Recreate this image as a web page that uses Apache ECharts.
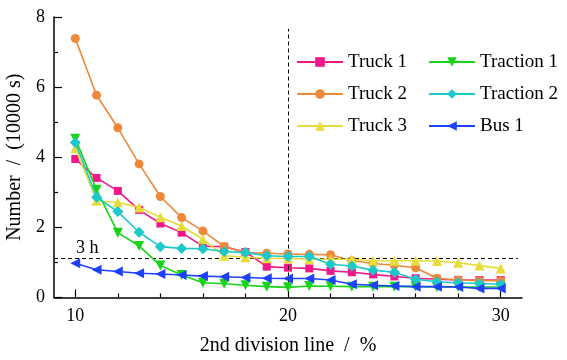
<!DOCTYPE html>
<html>
<head>
<meta charset="utf-8">
<script src="https://cdn.jsdelivr.net/npm/echarts@6/dist/echarts.min.js"></script>
<style>html,body{margin:0;padding:0;background:#fff}#c{width:567px;height:360px}</style>
</head>
<body>
<div id="c"></div>
<script>
var xValues = [10,11,12,13,14,15,16,17,18,19,20,21,22,23,24,25,26,27,28,29,30];
var truck1 = [3.95,3.41,3.04,2.50,2.11,1.85,1.46,1.45,1.30,0.88,0.85,0.83,0.76,0.72,0.66,0.60,0.55,0.52,0.50,0.50,0.50];
var truck2 = [7.39,5.77,4.84,3.81,2.88,2.28,1.90,1.45,1.28,1.26,1.24,1.23,1.22,1.05,0.97,0.92,0.85,0.55,0.50,0.48,0.48];
var truck3 = [4.26,2.76,2.71,2.57,2.29,2.04,1.66,1.19,1.15,1.12,1.12,1.09,1.09,1.09,1.05,1.05,1.05,1.04,0.99,0.91,0.83];
var traction1 = [4.53,3.07,1.85,1.47,0.91,0.64,0.42,0.39,0.35,0.31,0.29,0.33,0.32,0.31,0.31,0.31,0.31,0.30,0.30,0.30,0.30];
var traction2 = [4.42,2.86,2.45,1.86,1.45,1.40,1.39,1.31,1.28,1.19,1.17,1.17,0.95,0.90,0.78,0.72,0.52,0.45,0.42,0.40,0.38];
var bus1 = [0.98,0.79,0.74,0.69,0.67,0.64,0.61,0.59,0.57,0.55,0.54,0.54,0.50,0.38,0.35,0.33,0.31,0.31,0.30,0.26,0.26];
var seriesNames = ['Truck 1','Truck 2','Truck 3','Traction 1','Traction 2','Bus 1'];
var xLabelTicks = [10,20,30];
var xMinorTicks = [12,14,16,18,22,24,26,28];
var refX = 20;          // vertical reference (%)
var refYTop = 7.66;
var refY = 1.11;        // 3 h threshold
var refYLabel = '3 h';
var refXEnd = 30.8;

var FONT = 'Liberation Serif';
var colors = ['#F2188C','#F0883A','#E8DC3A','#18D418','#1CC8C8','#1E40FF'];
var symbols = ['rect','circle','triangle','triangle','diamond','triangle'];
var rotates = [0,0,0,180,0,90];
var sizes = [8,9,10,10,11,10];
var dataSets = [truck1,truck2,truck3,traction1,traction2,bus1];

function pairs(arr){ return xValues.map(function(x,i){ return [x, arr[i]]; }); }

var series = dataSets.map(function(d,i){
  return {
    name: seriesNames[i], type: 'line', data: pairs(d),
    symbol: symbols[i], symbolSize: sizes[i], symbolRotate: rotates[i],
    lineStyle: {color: colors[i], width: 1.6},
    itemStyle: {color: colors[i]},
    emphasis: {disabled: true},
    z: 3 + i
  };
});
series.push({
  type: 'line', data: [], silent: true, z: 1,
  markLine: {
    silent: true, symbol: 'none', animation: false,
    lineStyle: {color: '#000', type: [4,3], width: 1},
    label: {show: false},
    data: [
      [{coord: [refX, 0]}, {coord: [refX, refYTop]}],
      [{coord: [9, refY], label: {show: true, formatter: refYLabel, position: 'insideStartTop', distance: [22, 1], color: '#000', fontFamily: FONT, fontSize: 18}}, {coord: [refXEnd, refY]}]
    ]
  }
});

var chart = echarts.init(document.getElementById('c'));
chart.setOption({
  animation: false,
  backgroundColor: '#fff',
  grid: {left: 54, right: 45, top: 17, bottom: 62.5, outerBoundsMode: 'none', containLabel: false},
  legend: [
    {data: seriesNames.slice(0,3), orient: 'vertical', left: 291, top: 47, itemWidth: 46, itemHeight: 12, itemGap: 12,
     textStyle: {fontFamily: FONT, fontSize: 19, color: '#000', lineHeight: 20}},
    {data: seriesNames.slice(3), orient: 'vertical', left: 423, top: 47, itemWidth: 46, itemHeight: 12, itemGap: 12,
     textStyle: {fontFamily: FONT, fontSize: 19, color: '#000', lineHeight: 20}}
  ],
  xAxis: [
    {type: 'value', min: 9, max: 31, position: 'bottom',
     name: '2nd division line  /  %', nameLocation: 'middle', nameGap: 38,
     nameTextStyle: {fontFamily: FONT, fontSize: 20, color: '#000'},
     axisLine: {show: true, lineStyle: {color: '#000', width: 1.5}},
     axisTick: {show: true, inside: true, length: 4, customValues: xMinorTicks, lineStyle: {color: '#000', width: 1.2}},
     axisLabel: {customValues: xLabelTicks, fontFamily: FONT, fontSize: 18, color: '#000', margin: 10},
     splitLine: {show: false}},
    {type: 'value', min: 9, max: 31, position: 'bottom',
     axisLine: {show: false},
     axisTick: {show: true, inside: true, length: 8, customValues: xLabelTicks, lineStyle: {color: '#000', width: 1.2}},
     axisLabel: {show: false}, splitLine: {show: false}}
  ],
  yAxis: {type: 'value', min: 0, max: 8, interval: 2,
    name: 'Number  /  (10000 s)', nameLocation: 'middle', nameGap: 21,
    nameTextStyle: {fontFamily: FONT, fontSize: 20, color: '#000'},
    axisLine: {show: true, lineStyle: {color: '#000', width: 1.5}},
    axisTick: {show: true, inside: true, length: 8, lineStyle: {color: '#000', width: 1.2}},
    minorTick: {show: true, splitNumber: 2, length: 4, lineStyle: {color: '#000', width: 1.2}},
    axisLabel: {fontFamily: FONT, fontSize: 18, color: '#000', margin: 9},
    splitLine: {show: false}},
  series: series
});
</script>
</body>
</html>
